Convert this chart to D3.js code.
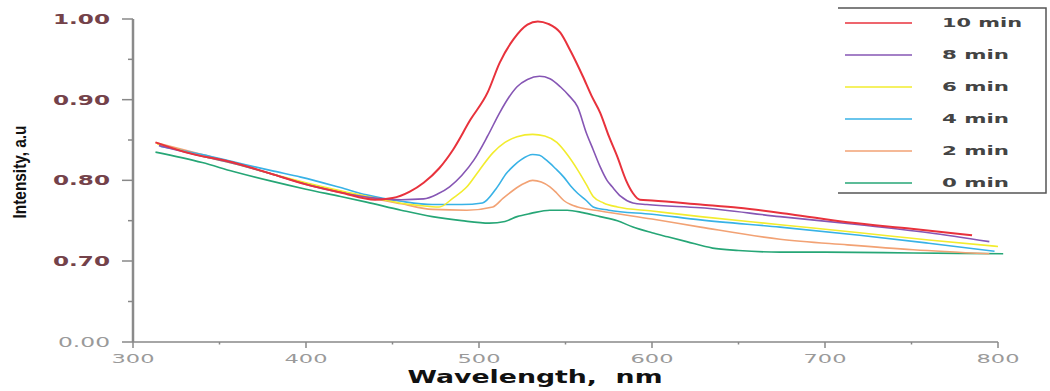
<!DOCTYPE html>
<html lang="en">
<head>
<meta charset="UTF-8">
<title>Intensity vs Wavelength</title>
<script src="https://cdn.jsdelivr.net/npm/d3@7/dist/d3.min.js"></script>
<style>
    body { margin: 0; background: #fff; }
    svg { display: block; }
</style>
</head>
<body>
<svg id="chart"></svg>
<script>
    // spectra (wavelength in nm, intensity in a.u)
    const wl10 = [313, 330, 358, 380, 400, 420, 440, 450, 460, 468, 477, 485, 495, 505, 512, 520, 528, 534, 540, 547, 553, 560, 565, 570, 575, 580, 585, 589, 593, 600, 628, 650, 680, 713, 750, 785];
    const int10 = [.847, .835, .822, .808, .795, .785, .776, .778, .786, .797, .815, .838, .875, .909, .946, .975, .993, .997, .994, .983, .96, .929, .905, .884, .855, .829, .80, .784, .776, .775, .77, .766, .758, .748, .740, .732];

    const wl8 = [315, 340, 360, 380, 400, 420, 440, 455, 468, 476, 483, 490, 497, 505, 512, 517, 522, 528, 535, 541, 547, 552, 557, 562, 566, 570, 574, 577, 582, 589, 597, 628, 674, 720, 760, 795];
    const int8 = [.843, .830, .82, .808, .795, .785, .778, .776, .777, .783, .792, .806, .825, .855, .884, .902, .916, .925, .929, .926, .916, .905, .891, .859, .838, .817, .80, .792, .78, .772, .77, .766, .755, .745, .735, .724];

    const wl6 = [314, 340, 360, 380, 400, 420, 440, 454, 465, 477, 485, 493, 500, 508, 515, 522, 531, 538, 545, 551, 557, 562, 566, 572, 580, 600, 628, 674, 720, 760, 800];
    const int6 = [.845, .83, .82, .808, .797, .787, .778, .772, .769, .767, .778, .792, .812, .834, .847, .854, .857, .855, .847, .832, .813, .795, .78, .772, .767, .762, .755, .745, .735, .726, .718];

    const wl4 = [316, 340, 358, 380, 397, 420, 435, 455, 473, 490, 502, 510, 516, 520, 524, 531, 535, 539, 544, 549, 553, 557, 562, 566, 575, 600, 628, 674, 720, 760, 798];
    const int4 = [.842, .832, .823, .812, .804, .791, .782, .774, .77, .77, .772, .79, .809, .818, .825, .832, .831, .825, .815, .804, .793, .784, .775, .767, .763, .758, .751, .742, .732, .722, .712];

    const wl2 = [313, 340, 358, 380, 400, 420, 440, 455, 473, 493, 508, 514, 520, 526, 531, 536, 541, 545, 549, 553, 557, 570, 600, 628, 674, 713, 751, 795];
    const int2 = [.847, .832, .822, .808, .796, .786, .777, .771, .764, .763, .767, .778, .788, .796, .80, .798, .792, .784, .775, .77, .767, .762, .752, .742, .727, .72, .714, .709];

    const wl0 = [313, 340, 358, 380, 400, 420, 435, 455, 473, 490, 506, 515, 522, 530, 541, 551, 560, 570, 580, 589, 600, 609, 620, 635, 650, 674, 700, 751, 803];
    const int0 = [.835, .822, .811, .799, .789, .78, .773, .763, .755, .75, .747, .749, .755, .759, .763, .763, .76, .755, .75, .742, .735, .730, .724, .716, .713, .711, .711, .71, .709];

    const labels = ["10 min", "8 min", "6 min", "4 min", "2 min", "0 min"];
    const colors = ["#e8323c", "#8656b4", "#f2ec2e", "#38b2e6", "#f2a274", "#26a676"];
    const wls = [wl10, wl8, wl6, wl4, wl2, wl0];
    const ints = [int10, int8, int6, int4, int2, int0];

    const yMajor = [0, 0.7, 0.8, 0.9, 1.0];
    const yMinor = [0.35, 0.75, 0.85, 0.95];
    const xMajor = [300, 400, 500, 600, 700, 800];
    const xMinor = [350, 450, 550, 650, 750];

    const width = 1050, height = 391;
    const svg = d3.select("#chart").attr("width", width).attr("height", height);

    const x = d3.scaleLinear().domain([300, 800]).range([133, 998]);
    // broken axis: 0 to 0.70 squeezed into one step
    const y = d3.scaleLinear().domain([0, 0.7, 1.0]).range([342, 261, 19]);

    // x axis
    svg.append("line")
        .attr("x1", x(300)).attr("x2", x(800))
        .attr("y1", y(0)).attr("y2", y(0))
        .attr("stroke", "#888").attr("stroke-width", 1.5);
    svg.selectAll(".xmaj").data(xMajor).enter().append("line")
        .attr("x1", d => x(d)).attr("x2", d => x(d))
        .attr("y1", y(0)).attr("y2", y(0) + 6)
        .attr("stroke", "#888").attr("stroke-width", 1.5);
    svg.selectAll(".xmin").data(xMinor).enter().append("line")
        .attr("x1", d => x(d)).attr("x2", d => x(d))
        .attr("y1", y(0)).attr("y2", y(0) + 2.5)
        .attr("stroke", "#888").attr("stroke-width", 1.5);
    svg.selectAll(".xlab").data(xMajor).enter().append("text")
        .attr("x", d => x(d)).attr("y", 363)
        .attr("text-anchor", "middle")
        .attr("font-family", "DejaVu Sans").attr("font-size", 13)
        .attr("fill", "#9a9a9a")
        .attr("textLength", 43).attr("lengthAdjust", "spacingAndGlyphs")
        .text(d => d);

    // y axis
    svg.append("line")
        .attr("x1", 133).attr("x2", 133)
        .attr("y1", y(1.0)).attr("y2", y(0))
        .attr("stroke", "#8a8a8a").attr("stroke-width", 2.5);
    svg.selectAll(".ymaj").data(yMajor).enter().append("line")
        .attr("x1", 122).attr("x2", 133)
        .attr("y1", d => y(d)).attr("y2", d => y(d))
        .attr("stroke", "#888").attr("stroke-width", 1.5);
    svg.selectAll(".ymin").data(yMinor).enter().append("line")
        .attr("x1", 128).attr("x2", 133)
        .attr("y1", d => y(d)).attr("y2", d => y(d))
        .attr("stroke", "#888").attr("stroke-width", 1.5);
    svg.selectAll(".ylab").data(yMajor).enter().append("text")
        .attr("x", 110).attr("y", d => y(d) + 5)
        .attr("text-anchor", "end")
        .attr("font-family", "DejaVu Sans")
        .attr("font-weight", d => d === 0 ? "normal" : "bold")
        .attr("font-size", 14)
        .attr("fill", d => d === 0 ? "#9a9a9a" : "#74424a")
        .attr("textLength", d => d === 0 ? 52 : 57).attr("lengthAdjust", "spacingAndGlyphs")
        .text(d => d.toFixed(2));

    // axis titles
    svg.append("text")
        .attr("x", 535).attr("y", 383)
        .attr("text-anchor", "middle")
        .style("white-space", "pre")
        .attr("font-family", "DejaVu Sans").attr("font-weight", "bold").attr("font-size", 17)
        .attr("fill", "#111")
        .attr("textLength", 255).attr("lengthAdjust", "spacingAndGlyphs")
        .text("Wavelength,  nm");
    svg.append("text")
        .attr("transform", "translate(26,172) rotate(-90)")
        .attr("text-anchor", "middle")
        .attr("font-family", "Liberation Sans Narrow, Liberation Sans")
        .attr("font-weight", "bold").attr("font-size", 19)
        .attr("fill", "#111")
        .attr("textLength", 93).attr("lengthAdjust", "spacingAndGlyphs")
        .text("Intensity, a.u");

    // spectra
    const line = d3.line()
        .x(d => x(d[0]))
        .y(d => y(d[1]))
        .curve(d3.curveMonotoneX);

    // draw 0 min first so the red one ends on top
    d3.range(labels.length).reverse().forEach(i => {
        const pts = wls[i].map((w, j) => [w, ints[i][j]]);
        svg.append("path")
            .datum(pts)
            .attr("fill", "none")
            .attr("stroke", colors[i])
            .attr("stroke-width", i === 0 ? 2 : 1.6)
            .attr("d", line);
    });

    // legend
    const lg = svg.append("g");
    lg.append("rect")
        .attr("x", 838).attr("y", 8).attr("width", 208).attr("height", 185)
        .attr("fill", "#fff").attr("stroke", "none");
    lg.append("path")
        .attr("d", "M838,8H1046V193H838")
        .attr("fill", "none").attr("stroke", "#555").attr("stroke-width", 1.5);
    const ly = d3.scalePoint().domain(labels).range([23, 183]);
    labels.forEach((lab, i) => {
        lg.append("line")
            .attr("x1", 845).attr("x2", 912)
            .attr("y1", ly(lab)).attr("y2", ly(lab))
            .attr("stroke", colors[i]).attr("stroke-width", 1.6);
        lg.append("text")
            .attr("x", 942).attr("y", ly(lab) + 4)
            .attr("font-family", "DejaVu Sans").attr("font-weight", "bold").attr("font-size", 12)
            .attr("fill", "#444")
            .attr("textLength", lab.length > 5 ? 80 : 67).attr("lengthAdjust", "spacingAndGlyphs")
            .text(lab);
    });
</script>
</body>
</html>
